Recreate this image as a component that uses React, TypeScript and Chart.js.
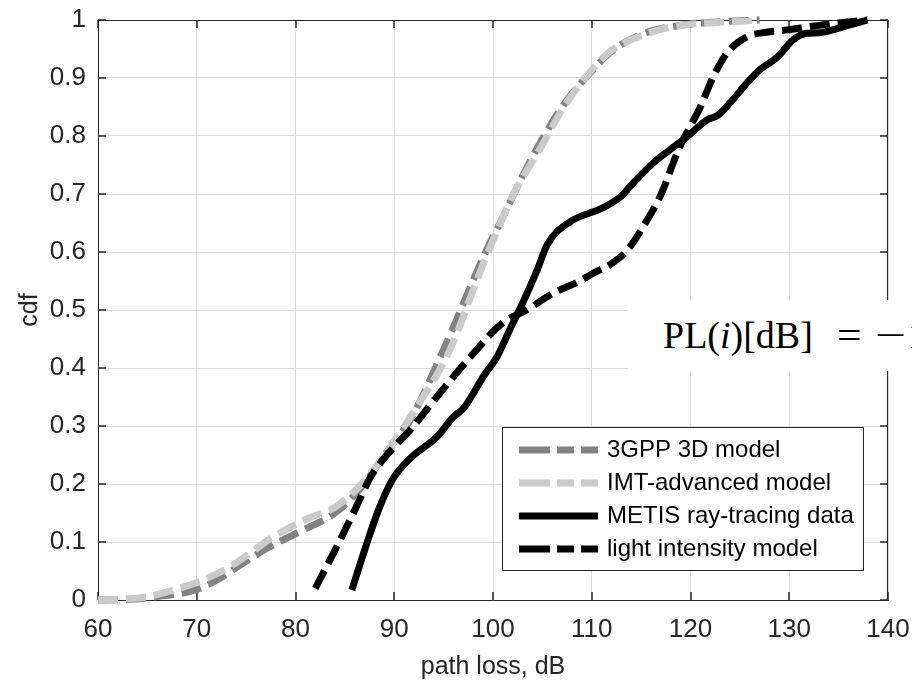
import React, { useEffect, useRef } from 'react';
import { Chart, registerables } from 'chart.js';

Chart.register(...registerables);

// ---- data ----
const xTickValues = [60, 70, 80, 90, 100, 110, 120, 130, 140];
const xTickLabels = ['60', '70', '80', '90', '100', '110', '120', '130', '140'];
const yTickValues = [0, 0.1, 0.2, 0.3, 0.4, 0.5, 0.6, 0.7, 0.8, 0.9, 1];
const yTickLabels = ['0', '0.1', '0.2', '0.3', '0.4', '0.5', '0.6', '0.7', '0.8', '0.9', '1'];
const xTitle = 'path loss, dB';
const yTitle = 'cdf';
const seriesNames = ['3GPP 3D model', 'IMT-advanced model', 'METIS ray-tracing data', 'light intensity model'];

const gppX = [60, 63, 66, 69.8, 72, 74.2, 77.2, 80.7, 84, 86.7, 89.4, 91.6, 95.1, 99.2, 101, 103.2, 106, 107.5, 110, 112, 115, 119, 123, 127];
const gppY = [0, 0.001, 0.006, 0.017, 0.034, 0.058, 0.09, 0.12, 0.15, 0.195, 0.259, 0.31, 0.436, 0.598, 0.66, 0.738, 0.824, 0.862, 0.912, 0.946, 0.975, 0.991, 0.997, 1.0];

const imtX = [60, 62, 64.8, 67, 69.8, 72, 73.9, 75.5, 77.2, 79, 81.3, 84, 86.7, 89.4, 92.1, 95.6, 98.7, 100.5, 102.4, 103.6, 104.8, 107.1, 109.8, 111.8, 113.5, 115.2, 117, 119.2, 122, 124, 127];
const imtY = [0, 0.001, 0.005, 0.014, 0.029, 0.045, 0.063, 0.082, 0.103, 0.121, 0.141, 0.16, 0.2, 0.259, 0.328, 0.43, 0.566, 0.64, 0.71, 0.745, 0.779, 0.848, 0.91, 0.945, 0.962, 0.974, 0.984, 0.991, 0.995, 0.997, 1.0];

const metisX = [85.7, 87, 88.4, 89.8, 91.8, 94.3, 96, 97, 99.2, 100.4, 101.7, 103, 104.5, 105.5, 107.8, 111.1, 112.9, 114.2, 116.2, 117.9, 119.6, 121.7, 122.7, 124, 125.7, 127, 128.8, 130.4, 131.8, 133, 134.4, 135.4, 137.9];
const metisY = [0.017, 0.086, 0.155, 0.207, 0.247, 0.281, 0.316, 0.33, 0.39, 0.419, 0.466, 0.512, 0.57, 0.613, 0.652, 0.676, 0.695, 0.719, 0.753, 0.776, 0.798, 0.828, 0.835, 0.857, 0.891, 0.914, 0.936, 0.966, 0.977, 0.978, 0.983, 0.988, 1.0];

const lightX = [82, 84, 86, 87.6, 89.4, 91.8, 94.3, 97.7, 101, 103.4, 106.1, 108.8, 110.1, 112, 113.6, 115.6, 116.9, 118.9, 121, 122.3, 123.7, 125.7, 127.7, 129.8, 131.8, 134.4, 137.9];
const lightY = [0.02, 0.086, 0.155, 0.212, 0.253, 0.297, 0.35, 0.419, 0.478, 0.5, 0.529, 0.55, 0.563, 0.58, 0.603, 0.655, 0.695, 0.781, 0.85, 0.902, 0.943, 0.971, 0.979, 0.983, 0.988, 0.994, 1.0];

const seriesColors = ['#838383', '#cacaca', '#000000', '#000000'];
const seriesDashed = [true, true, false, true];

const pts = (xs: number[], ys: number[]) => xs.map((x, i) => ({ x, y: ys[i] }));

const FONT = '"Liberation Sans", Arial, sans-serif';

const zeroPadding = (s: any) => {
  s.paddingTop = 0;
  s.paddingBottom = 0;
  s.paddingLeft = 0;
  s.paddingRight = 0;
};

const framePlugin = {
  id: 'frame',
  beforeDatasetsDraw(chart: any) {
    const { ctx, chartArea } = chart;
    const { left, right, top, bottom } = chartArea;
    const xs = chart.scales.x;
    const ys = chart.scales.y;
    ctx.save();
    ctx.strokeStyle = '#262626';
    ctx.lineWidth = 1;
    ctx.beginPath();
    ctx.moveTo(left, top + 0.5);
    ctx.lineTo(right, top + 0.5);
    ctx.moveTo(right - 0.5, top);
    ctx.lineTo(right - 0.5, bottom);
    ctx.stroke();
    ctx.lineWidth = 1.5;
    ctx.beginPath();
    for (const v of xTickValues) {
      const p = Math.round(xs.getPixelForValue(v));
      ctx.moveTo(p, bottom);
      ctx.lineTo(p, bottom - 8);
      ctx.moveTo(p, top);
      ctx.lineTo(p, top + 8);
    }
    for (const v of yTickValues) {
      const p = Math.round(ys.getPixelForValue(v));
      ctx.moveTo(left, p);
      ctx.lineTo(left + 8, p);
      ctx.moveTo(right, p);
      ctx.lineTo(right - 8, p);
    }
    ctx.stroke();
    ctx.restore();
  },
};

const legendPlugin = {
  id: 'customLegend',
  afterDraw(chart: any) {
    const { ctx, chartArea } = chart;
    const bx1 = chartArea.right - 25;
    const by1 = chartArea.bottom - 30;
    const bw = 361;
    const bh = 143;
    const bx = bx1 - bw;
    const by = by1 - bh;
    ctx.save();
    ctx.fillStyle = '#ffffff';
    ctx.fillRect(bx, by, bw, bh);
    ctx.strokeStyle = '#262626';
    ctx.lineWidth = 1;
    ctx.strokeRect(bx + 0.5, by + 0.5, bw, bh);
    ctx.font = `24px ${FONT}`;
    ctx.textBaseline = 'middle';
    ctx.textAlign = 'left';
    seriesNames.forEach((name, i) => {
      const yy = by + 23 + i * 33;
      ctx.beginPath();
      ctx.strokeStyle = seriesColors[i];
      ctx.lineWidth = 7;
      ctx.lineCap = 'butt';
      ctx.setLineDash(seriesDashed[i] ? [31, 7, 17, 7, 18] : []);
      ctx.moveTo(bx + 17, yy);
      ctx.lineTo(bx + 96, yy);
      ctx.stroke();
      ctx.setLineDash([]);
      ctx.fillStyle = '#000000';
      ctx.fillText(name, bx + 105, yy);
    });
    ctx.restore();
  },
};

export default function App() {
  const canvasRef = useRef<HTMLCanvasElement | null>(null);

  useEffect(() => {
    const canvas = canvasRef.current;
    if (!canvas) return;
    const lineCommon = {
      borderWidth: 7,
      pointRadius: 0,
      fill: false,
      clip: false as any,
      borderCapStyle: 'butt' as const,
      cubicInterpolationMode: 'monotone' as const,
    };
    const chart = new Chart(canvas, {
      type: 'line',
      data: {
        datasets: [
          { ...lineCommon, label: seriesNames[0], data: pts(gppX, gppY), borderColor: seriesColors[0], borderDash: [20, 8], order: 4 },
          { ...lineCommon, label: seriesNames[1], data: pts(imtX, imtY), borderColor: seriesColors[1], borderDash: [20, 8], order: 3 },
          { ...lineCommon, label: seriesNames[2], data: pts(metisX, metisY), borderColor: seriesColors[2], order: 2 },
          { ...lineCommon, label: seriesNames[3], data: pts(lightX, lightY), borderColor: seriesColors[3], borderDash: [20, 8], order: 1 },
        ],
      },
      options: {
        responsive: false,
        animation: false,
        devicePixelRatio: 1,
        layout: { padding: { top: 20, right: 24, left: 0, bottom: 0 } },
        plugins: { legend: { display: false }, tooltip: { enabled: false } },
        scales: {
          x: {
            type: 'linear',
            min: 60,
            max: 140,
            afterFit: (s: any) => { s.height = 83; zeroPadding(s); },
            afterBuildTicks: (s: any) => { s.ticks = xTickValues.map((v) => ({ value: v })); },
            ticks: {
              padding: 14,
              color: '#262626',
              font: { family: FONT, size: 26 },
              callback: (v: any) => xTickLabels[xTickValues.indexOf(Number(v))] ?? '',
            },
            grid: { color: '#dedede', lineWidth: 1, drawTicks: false },
            border: { display: true, color: '#262626', width: 1 },
            title: {
              display: true,
              text: xTitle,
              color: '#262626',
              font: { family: FONT, size: 25 },
              padding: { top: 0, bottom: 1 },
            },
          },
          y: {
            type: 'linear',
            min: 0,
            max: 1,
            afterFit: (s: any) => { s.width = 98; zeroPadding(s); },
            afterBuildTicks: (s: any) => { s.ticks = yTickValues.map((v) => ({ value: v })); },
            ticks: {
              padding: 12,
              color: '#262626',
              font: { family: FONT, size: 26 },
              callback: (v: any) => {
                const idx = yTickValues.findIndex((t) => Math.abs(t - Number(v)) < 1e-6);
                return idx >= 0 ? yTickLabels[idx] : '';
              },
            },
            grid: { color: '#dedede', lineWidth: 1, drawTicks: false },
            border: { display: true, color: '#262626', width: 1 },
            title: {
              display: true,
              text: yTitle,
              color: '#262626',
              font: { family: FONT, size: 25 },
              padding: { top: 15, bottom: 0 },
            },
          },
        },
      },
      plugins: [framePlugin, legendPlugin],
    } as any);
    return () => chart.destroy();
  }, []);

  const serif = '"Liberation Serif", "Times New Roman", serif';
  const spanBase: React.CSSProperties = { position: 'absolute', top: 16, lineHeight: '38px', whiteSpace: 'pre' };

  return (
    <div style={{ position: 'fixed', left: 0, top: 0, width: 912, height: 683, overflow: 'hidden', background: '#ffffff' }}>
      <canvas ref={canvasRef} width={912} height={683} style={{ display: 'block', width: 912, height: 683 }} />
      <div
        style={{
          position: 'absolute', left: 628, top: 300, width: 284, height: 71, background: '#ffffff',
          overflow: 'hidden', fontFamily: serif, fontSize: 38, color: '#000000',
        }}
      >
        <span style={{ ...spanBase, left: 35 }}>PL(<i>i</i>)[dB]</span>
        <span style={{ ...spanBase, left: 209, transform: 'scaleX(1.15)', transformOrigin: 'left center' }}>=</span>
        <span style={{ ...spanBase, left: 247, transform: 'scaleX(1.45)', transformOrigin: 'left center' }}>−</span>
        <span style={{ ...spanBase, left: 280 }}>1</span>
      </div>
    </div>
  );
}
